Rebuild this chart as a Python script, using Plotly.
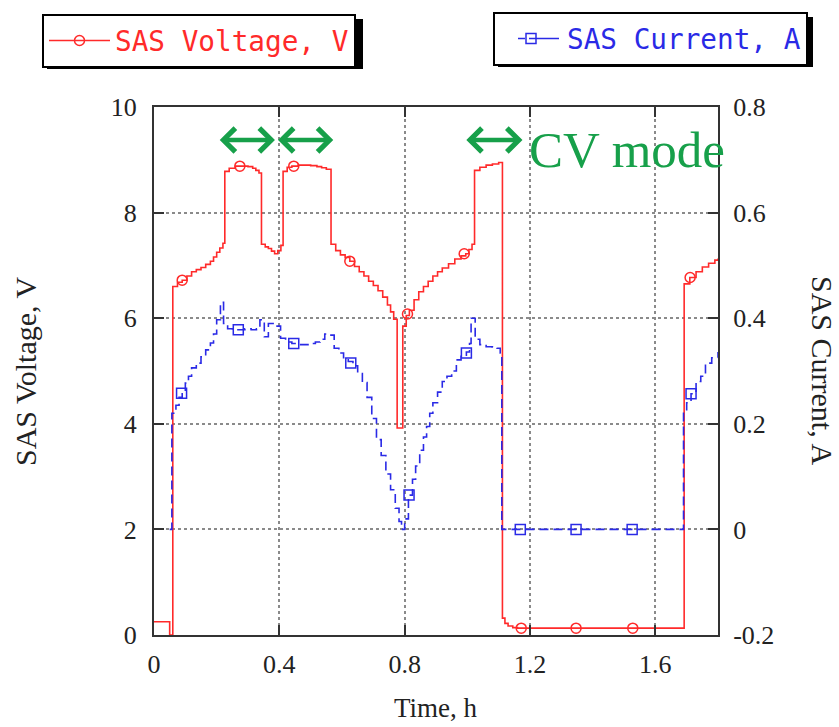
import plotly.graph_objects as go

# SAS voltage trace: time (h) vs voltage (V)
volt_t = [0.0, 0.05, 0.06, 0.075, 0.09, 0.105, 0.12, 0.135, 0.15, 0.165, 0.18, 0.19, 0.20, 0.21, 0.22,
          0.226, 0.24, 0.26, 0.28, 0.30, 0.315, 0.325, 0.335,
          0.343, 0.355, 0.365, 0.375, 0.385, 0.395, 0.405,
          0.412, 0.425, 0.44, 0.46, 0.48, 0.50, 0.52, 0.535, 0.55,
          0.565, 0.58, 0.595, 0.61, 0.625, 0.64, 0.655, 0.67, 0.685, 0.70, 0.715, 0.73, 0.745, 0.755, 0.765,
          0.776, 0.794, 0.805, 0.815, 0.83, 0.845, 0.86, 0.875, 0.89, 0.905, 0.92, 0.94, 0.96, 0.98, 0.995,
          1.005, 1.015, 1.023, 1.04, 1.06, 1.08, 1.10,
          1.112, 1.12, 1.13, 1.145, 1.16, 1.30, 1.45, 1.60, 1.687,
          1.692, 1.71, 1.73, 1.75, 1.77, 1.79, 1.80]
volt_v = [0.25, 0.0, 6.60, 6.68, 6.72, 6.80, 6.88, 6.92, 6.96, 7.02, 7.08, 7.16, 7.25, 7.33, 7.42,
          8.78, 8.84, 8.88, 8.88, 8.87, 8.84, 8.80, 8.75,
          7.40, 7.35, 7.32, 7.27, 7.22, 7.28, 7.38,
          8.78, 8.86, 8.88, 8.90, 8.90, 8.89, 8.87, 8.85, 8.82,
          7.40, 7.28, 7.20, 7.15, 7.08, 6.98, 6.88, 6.80, 6.70, 6.62, 6.52, 6.40, 6.25, 6.12, 5.98,
          3.92, 5.85, 6.05, 6.15, 6.35, 6.50, 6.60, 6.70, 6.80, 6.88, 6.95, 7.03, 7.12, 7.18, 7.22,
          7.30, 7.40, 8.80, 8.86, 8.90, 8.92, 8.95,
          0.32, 0.22, 0.17, 0.14, 0.13, 0.13, 0.13, 0.13, 0.13,
          6.65, 6.77, 6.88, 6.97, 7.04, 7.10, 7.13]

# SAS current trace: time (h) vs current (A)
cur_t = [0.05, 0.057, 0.07, 0.08, 0.09, 0.10, 0.11, 0.12, 0.135, 0.15, 0.165, 0.18, 0.19, 0.20, 0.212,
         0.222, 0.235, 0.25, 0.27, 0.29, 0.31, 0.327, 0.338, 0.352, 0.365, 0.39, 0.404, 0.42, 0.44,
         0.46, 0.48, 0.50, 0.515, 0.53, 0.545, 0.56, 0.575, 0.59, 0.605, 0.62, 0.635, 0.65, 0.665,
         0.68, 0.695, 0.71, 0.725, 0.74, 0.755, 0.77, 0.782, 0.79, 0.80, 0.812, 0.825, 0.835, 0.848,
         0.86, 0.87, 0.88, 0.89, 0.905, 0.92, 0.935, 0.95, 0.965, 0.98, 0.997, 1.007, 1.012, 1.025,
         1.04, 1.06, 1.08, 1.095, 1.105, 1.11, 1.30, 1.50, 1.687, 1.69, 1.70, 1.714, 1.73, 1.745,
         1.76, 1.78, 1.80]
cur_a = [0.0, 0.22, 0.235, 0.25, 0.26, 0.277, 0.29, 0.306, 0.315, 0.327, 0.34, 0.353, 0.37, 0.397, 0.43,
         0.39, 0.38, 0.378, 0.378, 0.38, 0.378, 0.38, 0.397, 0.365, 0.39, 0.385, 0.362, 0.355, 0.352,
         0.35, 0.35, 0.352, 0.355, 0.36, 0.37, 0.368, 0.343, 0.334, 0.325, 0.318, 0.31, 0.295, 0.278,
         0.25, 0.21, 0.17, 0.14, 0.105, 0.075, 0.04, 0.015, 0.0, 0.02, 0.065, 0.095, 0.12, 0.15,
         0.175, 0.195, 0.22, 0.24, 0.26, 0.28, 0.29, 0.30, 0.321, 0.33, 0.336, 0.352, 0.40, 0.36,
         0.35, 0.346, 0.345, 0.343, 0.334, 0.0, 0.0, 0.0, 0.0, 0.22, 0.24, 0.257, 0.28, 0.29,
         0.315, 0.325, 0.336]

# Sample markers along each trace
volt_mark_t = [0.09, 0.274, 0.446, 0.625, 0.809, 0.99, 1.172, 1.347, 1.528, 1.711]
volt_mark_v = [6.72, 8.88, 8.88, 7.08, 6.08, 7.22, 0.13, 0.13, 0.13, 6.77]
cur_mark_t = [0.088, 0.269, 0.446, 0.628, 0.814, 0.997, 1.169, 1.347, 1.526, 1.714]
cur_mark_a = [0.258, 0.378, 0.352, 0.315, 0.065, 0.334, 0.0, 0.0, 0.0, 0.257]

# Constant-voltage intervals (start, end) in h
cv_spans = [(0.205, 0.386), (0.391, 0.572), (0.992, 1.176)]
cv_level = 9.375

x_tickvals = [0, 0.4, 0.8, 1.2, 1.6]
x_ticktext = ["0", "0.4", "0.8", "1.2", "1.6"]
v_tickvals = [0, 2, 4, 6, 8, 10]
a_tickvals = [-0.2, 0, 0.2, 0.4, 0.6, 0.8]
a_ticktext = ["-0.2", "0", "0.2", "0.4", "0.6", "0.8"]

RED = "#ff2a2a"
BLUE = "#2a2ae6"
GREEN = "#17a04a"
SERIF = "Liberation Serif, Times New Roman, serif"
MONO = "DejaVu Sans Mono, monospace"

W, H = 839, 727
ML, MR, MT, MB = 154, 121, 107, 92
PW, PH = W - ML - MR, H - MT - MB


def px_to_paper(px, py):
    return (px - ML) / PW, (H - MB - py) / PH


fig = go.Figure()

fig.add_trace(go.Scatter(x=volt_t, y=volt_v, mode="lines", line=dict(color=RED, width=1.6, shape="hv"),
                         showlegend=False, hoverinfo="skip"))
fig.add_trace(go.Scatter(x=volt_mark_t, y=volt_mark_v, mode="markers",
                         marker=dict(symbol="circle-open", size=10, color=RED, line=dict(width=1.5)),
                         showlegend=False))
fig.add_trace(go.Scatter(x=cur_t, y=cur_a, yaxis="y2", mode="lines",
                         line=dict(color=BLUE, width=1.6, shape="hv", dash="9px,5px"),
                         showlegend=False, hoverinfo="skip"))
fig.add_trace(go.Scatter(x=cur_mark_t, y=cur_mark_a, yaxis="y2", mode="markers",
                         marker=dict(symbol="square-open", size=10, color=BLUE, line=dict(width=1.5)),
                         showlegend=False))

# Legend entries
fig.add_trace(go.Scatter(x=[None], y=[None], mode="lines+markers", name="SAS Voltage, V",
                         line=dict(color=RED, width=1.6),
                         marker=dict(symbol="circle-open", size=10, color=RED, line=dict(width=1.5)),
                         legend="legend"))
fig.add_trace(go.Scatter(x=[None], y=[None], yaxis="y2", mode="lines+markers", name="SAS Current, A",
                         line=dict(color=BLUE, width=1.6, dash="0px,18px,7px,4px,30px,100px"),
                         marker=dict(symbol="square-open", size=10, color=BLUE, line=dict(width=1.5)),
                         legend="legend2"))

axis_common = dict(showline=True, linecolor="#333", linewidth=2, ticks="inside", ticklen=10,
                   tickwidth=2, tickcolor="#333", tickfont=dict(family=SERIF, size=26, color="#222"),
                   zeroline=False, automargin=False)

lx1, ly1 = px_to_paper(42, 14)
lx2, ly2 = px_to_paper(493, 12)

fig.update_layout(
    width=W, height=H,
    margin=dict(l=ML, r=MR, t=MT, b=MB, autoexpand=False),
    paper_bgcolor="white", plot_bgcolor="white",
    xaxis=dict(range=[0, 1.8], tickvals=x_tickvals, ticktext=x_ticktext, mirror="ticks",
               showgrid=True, gridcolor="#8a8a8a", gridwidth=1.5, griddash="dot",
               ticklabelstandoff=5, **axis_common),
    yaxis=dict(range=[0, 10], tickvals=v_tickvals, mirror=True,
               showgrid=True, gridcolor="#8a8a8a", gridwidth=1.5, griddash="dot",
               ticklabelstandoff=10, **axis_common),
    yaxis2=dict(range=[-0.2, 0.8], tickvals=a_tickvals, ticktext=a_ticktext, overlaying="y",
                side="right", showgrid=False, ticklabelstandoff=8, **axis_common),
    legend=dict(x=lx1, y=ly1, xanchor="left", yanchor="top",
                bgcolor="white", bordercolor="black", borderwidth=2, itemwidth=61,
                font=dict(family=MONO, size=27.7, color=RED)),
    legend2=dict(x=lx2, y=ly2, xanchor="left", yanchor="top",
                 bgcolor="white", bordercolor="black", borderwidth=2, itemwidth=62,
                 font=dict(family=MONO, size=27.7, color=BLUE)),
)

# Drop shadows behind the legend boxes
for (x0, y0, x1, y1) in [(42, 14, 358, 64), (493, 12, 808, 62)]:
    a0, b1 = px_to_paper(x0 + 5, y0 + 5)
    a1, b0 = px_to_paper(x1 + 5, y1 + 5)
    fig.add_shape(type="rect", xref="paper", yref="paper", x0=a0, x1=a1, y0=b0, y1=b1,
                  fillcolor="black", line=dict(width=0), layer="above")

# Double-headed arrows marking the CV intervals
for (t0, t1) in cv_spans:
    fig.add_annotation(x=t1, y=cv_level, ax=t0, ay=cv_level, xref="x", yref="y", axref="x", ayref="y",
                       showarrow=True, arrowhead=4, startarrowhead=4, arrowside="end+start",
                       arrowwidth=4.6, arrowsize=1, startarrowsize=1, arrowcolor=GREEN, text="")

fig.add_annotation(x=1.19, y=9.19, xref="x", yref="y", text="CV mode", showarrow=False,
                   xanchor="left", yanchor="middle", font=dict(family=SERIF, size=51, color=GREEN))

# Axis titles
fig.add_annotation(x=px_to_paper(25, 0)[0], y=0.5, xref="paper", yref="paper", text="SAS Voltage, V",
                   textangle=-90, showarrow=False, xanchor="center", yanchor="middle",
                   font=dict(family=SERIF, size=30, color="#222"))
fig.add_annotation(x=px_to_paper(823, 0)[0], y=0.5, xref="paper", yref="paper", text="SAS Current, A",
                   textangle=90, showarrow=False, xanchor="center", yanchor="middle",
                   font=dict(family=SERIF, size=30, color="#222"))
fig.add_annotation(x=0.5, y=px_to_paper(0, 708)[1], xref="paper", yref="paper", text="Time, h",
                   showarrow=False, xanchor="center", yanchor="middle",
                   font=dict(family=SERIF, size=27, color="#222"))

fig.write_html("out.html")
